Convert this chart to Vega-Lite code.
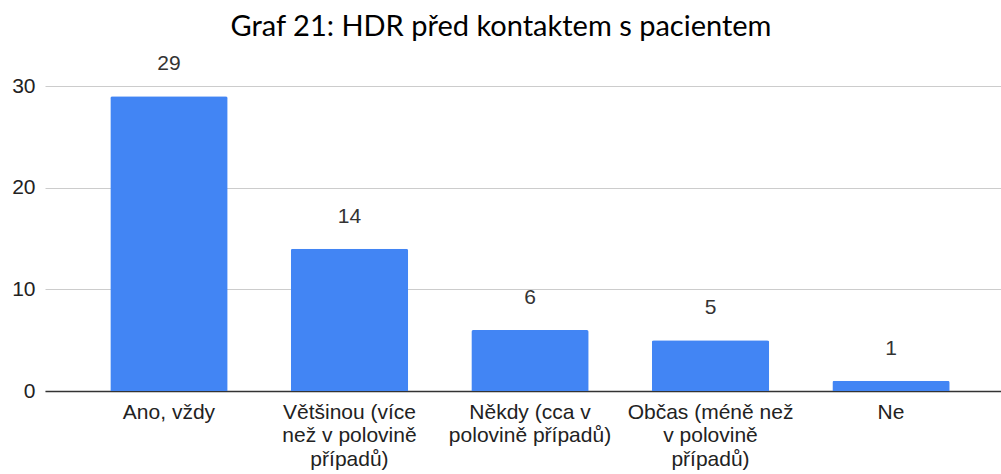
{
  "$schema": "https://vega.github.io/schema/vega-lite/v6.json",
  "width": 956,
  "height": 305,
  "autosize": {"type": "none"},
  "padding": {"left": 45, "top": 86, "right": 0, "bottom": 83},
  "background": "white",
  "title": {
    "text": "Graf 21: HDR před kontaktem s pacientem",
    "font": "Lato",
    "fontSize": 29,
    "fontWeight": "normal",
    "color": "#000000",
    "anchor": "middle",
    "dx": -22,
    "baseline": "alphabetic",
    "offset": -12
  },
  "config": {
    "view": {"stroke": null},
    "font": "Liberation Sans"
  },
  "data": {
    "values": [
      {"kategorie": "Ano, vždy", "pocet": 29},
      {"kategorie": "Většinou (více|než v polovině|případů)", "pocet": 14},
      {"kategorie": "Někdy (cca v|polovině případů)", "pocet": 6},
      {"kategorie": "Občas (méně než|v polovině|případů)", "pocet": 5},
      {"kategorie": "Ne", "pocet": 1}
    ]
  },
  "encoding": {
    "x": {
      "field": "kategorie",
      "type": "nominal",
      "sort": null,
      "scale": {"paddingInner": 0.35, "paddingOuter": 0.323, "align": 0.56},
      "axis": {
        "title": null,
        "labelAngle": 0,
        "labelExpr": "split(datum.label, '|')",
        "labelFont": "Liberation Sans",
        "labelFontSize": 21,
        "labelColor": "#222222",
        "labelLineHeight": 23.5,
        "labelPadding": 10,
        "labelLimit": 400,
        "ticks": false,
        "domainColor": "#333333",
        "domainWidth": 1.5,
        "grid": false
      }
    },
    "y": {
      "field": "pocet",
      "type": "quantitative",
      "scale": {"domain": [0, 30], "nice": false},
      "axis": {
        "title": null,
        "values": [0, 10, 20, 30],
        "labelFont": "Liberation Sans",
        "labelFontSize": 21,
        "labelColor": "#222222",
        "labelPadding": 10,
        "ticks": false,
        "domain": false,
        "gridColor": "#cccccc",
        "gridWidth": 1
      }
    }
  },
  "layer": [
    {
      "mark": {"type": "bar", "color": "#4285F4", "cornerRadiusTopLeft": 2, "cornerRadiusTopRight": 2}
    },
    {
      "mark": {"type": "text", "baseline": "alphabetic", "dy": -26, "font": "Liberation Sans", "fontSize": 21, "color": "#333333"},
      "encoding": {"text": {"field": "pocet", "type": "quantitative"}}
    }
  ]
}
